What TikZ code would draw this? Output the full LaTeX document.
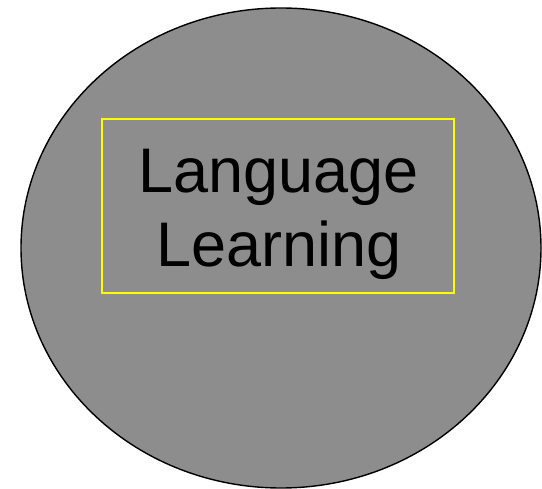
\documentclass[tikz,border=0pt]{standalone}
\usepackage{fontspec}
\setmainfont{Liberation Sans}
\usetikzlibrary{shapes.geometric}
\definecolor{fillgray}{RGB}{141,141,141}
\definecolor{boxyellow}{RGB}{255,255,0}
\tikzset{
  blob/.style={ellipse, draw=black, line width=1.4pt, fill=fillgray, inner sep=0pt},
  frame/.style={draw=boxyellow, line width=1.6pt, inner sep=0pt},
  label/.style={font=\fontsize{63}{73}\selectfont, text=black, inner sep=0pt, anchor=base}
}
\begin{document}
\begin{tikzpicture}[x=1pt,y=-1pt]
\useasboundingbox (0,0) rectangle (542,489);
\node[blob, minimum width=520pt, minimum height=480pt] (circ) at (281,248) {};
\node[frame, minimum width=352pt, minimum height=174pt] (box) at (278,206) {};
\node[label] (l1) at (278.5,193) {Language};
\node[label] (l2) at (279,267) {Learning};
\end{tikzpicture}
\end{document}
